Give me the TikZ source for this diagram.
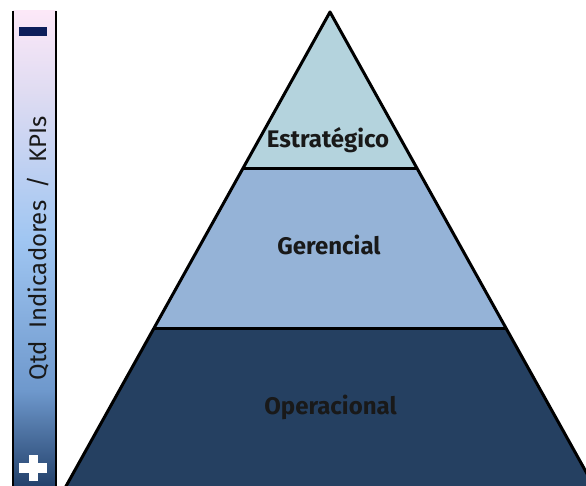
\documentclass[tikz,border=0pt]{standalone}
\usepackage{fontspec}
\setmainfont{Fira Sans}
\definecolor{topcol}{HTML}{B4D3DD}
\definecolor{midcol}{HTML}{95B3D7}
\definecolor{botcol}{HTML}{254061}
\definecolor{minuscol}{HTML}{0C1E5B}
% scale bar gradient: pale pink at the top, light blue, then dark blue
\pgfdeclareverticalshading{scalebar}{100bp}{%
  color(0bp)=(rgb,255:red,35;green,65;blue,107);
  color(25bp)=(rgb,255:red,35;green,65;blue,107);
  color(35bp)=(rgb,255:red,110;green,152;blue,204);
  color(51bp)=(rgb,255:red,160;green,198;blue,242);
  color(66.7bp)=(rgb,255:red,224;green,220;blue,242);
  color(75bp)=(rgb,255:red,252;green,232;blue,248);
  color(100bp)=(rgb,255:red,252;green,232;blue,248)}
\begin{document}
\begin{tikzpicture}[x=1pt,y=-1pt,
  tier/.style={draw=black,line width=3pt,line join=round},
  tierlabel/.style={anchor=base,font=\fontsize{24}{24}\selectfont\bfseries,text=black!90,inner sep=0pt},
  axislabel/.style={rotate=90,font=\fontsize{24}{24}\selectfont,text=black!90,inner sep=0pt}]
\useasboundingbox (0,0) rectangle (586,486);
\begin{scope}
\clip (0,0) rectangle (586,486);
% pyramid tiers, apex (330,12), base 66..594 at y=486
\coordinate (apex) at (330,12);
\coordinate (l1) at (242.6,169); \coordinate (r1) at (417.4,169);
\coordinate (l2) at (154,328);   \coordinate (r2) at (506,328);
\coordinate (l3) at (65,488);    \coordinate (r3) at (595,488);
\fill[botcol] (l2) -- (r2) -- (r3) -- (l3) -- cycle;
\fill[midcol] (l1) -- (r1) -- (r2) -- (l2) -- cycle;
\fill[topcol] (apex) -- (r1) -- (l1) -- cycle;
\draw[tier] (apex) -- (l3) -- (r3) -- cycle;
\draw[tier] (l1) -- (r1);
\draw[tier] (l2) -- (r2);
% vertical scale bar
\shade[shading=scalebar] (13,11) rectangle (56,486);
\draw[line width=2.5pt] (13.2,11) -- (13.2,490);
\draw[line width=2.5pt] (55.8,11) -- (55.8,490);
\end{scope}
\node[tierlabel] (strat) at (328,148) {Estratégico};
\node[tierlabel] (ger) at (329,255) {Gerencial};
\node[tierlabel] (oper) at (330.5,414) {Operacional};
\fill[minuscol] (19,27) rectangle (47,36);
\fill[white] (19,463) rectangle (47,473);
\fill[white] (28.5,455) rectangle (37.5,481);
\node[axislabel] (axis) at (38.5,248.5) {Qtd\ \ Indicadores\ \ /\ \ KPIs};
\end{tikzpicture}
\end{document}
